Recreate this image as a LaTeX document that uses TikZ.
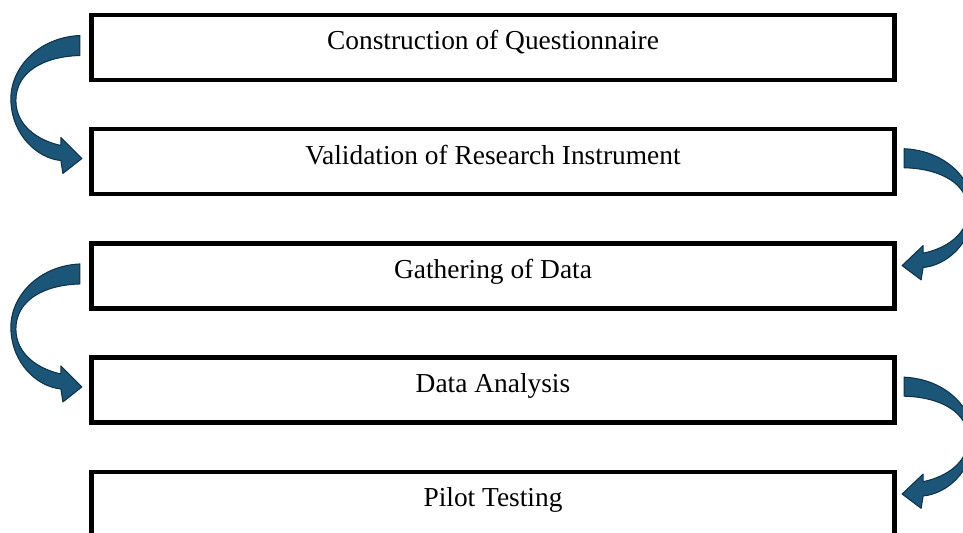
\documentclass[tikz,border=0pt]{standalone}
\usepackage{fontspec}
\setmainfont{Liberation Serif}
\usepackage{tikz}
\usetikzlibrary{positioning}

\definecolor{bendfill}{HTML}{1B5679}
\definecolor{bendline}{HTML}{0F324A}

% curved ribbon arrow, origin = top corner of its tail
\tikzset{
  bend/.pic = {
    \draw[bendline, fill=bendfill, line width=0.6pt, line join=round]
      (0,0) .. controls (-42,2) and (-70,33) .. (-69,65)
            .. controls (-68,100) and (-42,123) .. (-19,125)
      -- (-17,138) -- (2,123) -- (-19,102) -- (-19,110)
            .. controls (-42,105) and (-64,90) .. (-64,65)
            .. controls (-64,37) and (-37,21) .. (0,20) -- cycle;
  }
}

\begin{document}
\begin{tikzpicture}[x=0.02cm, y=-0.02cm, node distance={22.85mm},
    main/.style = {draw, line width=2.5pt, minimum width=16.06cm, minimum height=1.3cm,
                   text height=0.38cm, text depth=0.28cm, font=\fontsize{15.6}{18}\selectfont}]

    \useasboundingbox (0,0) rectangle (963,533);

    \node[main] (1) at (493,47.5) {Construction of Questionnaire};
    \node[main] (2) [below of=1] {Validation of Research Instrument};
    \node[main] (3) [below of=2] {Gathering of Data};
    \node[main] (4) [below of=3] {Data Analysis};
    \node[main] (5) [below of=4] {Pilot Testing};

    \pic at ([shift={(-9.5,-12)}]1.west) {bend};
    \pic at ([shift={(-9.5,-12)}]3.west) {bend};
    \pic[xscale=-1, yscale=0.95] at ([shift={(7.5,-13)}]2.east) {bend};
    \pic[xscale=-1, yscale=0.95] at ([shift={(7.5,-13)}]4.east) {bend};

\end{tikzpicture}
\end{document}
